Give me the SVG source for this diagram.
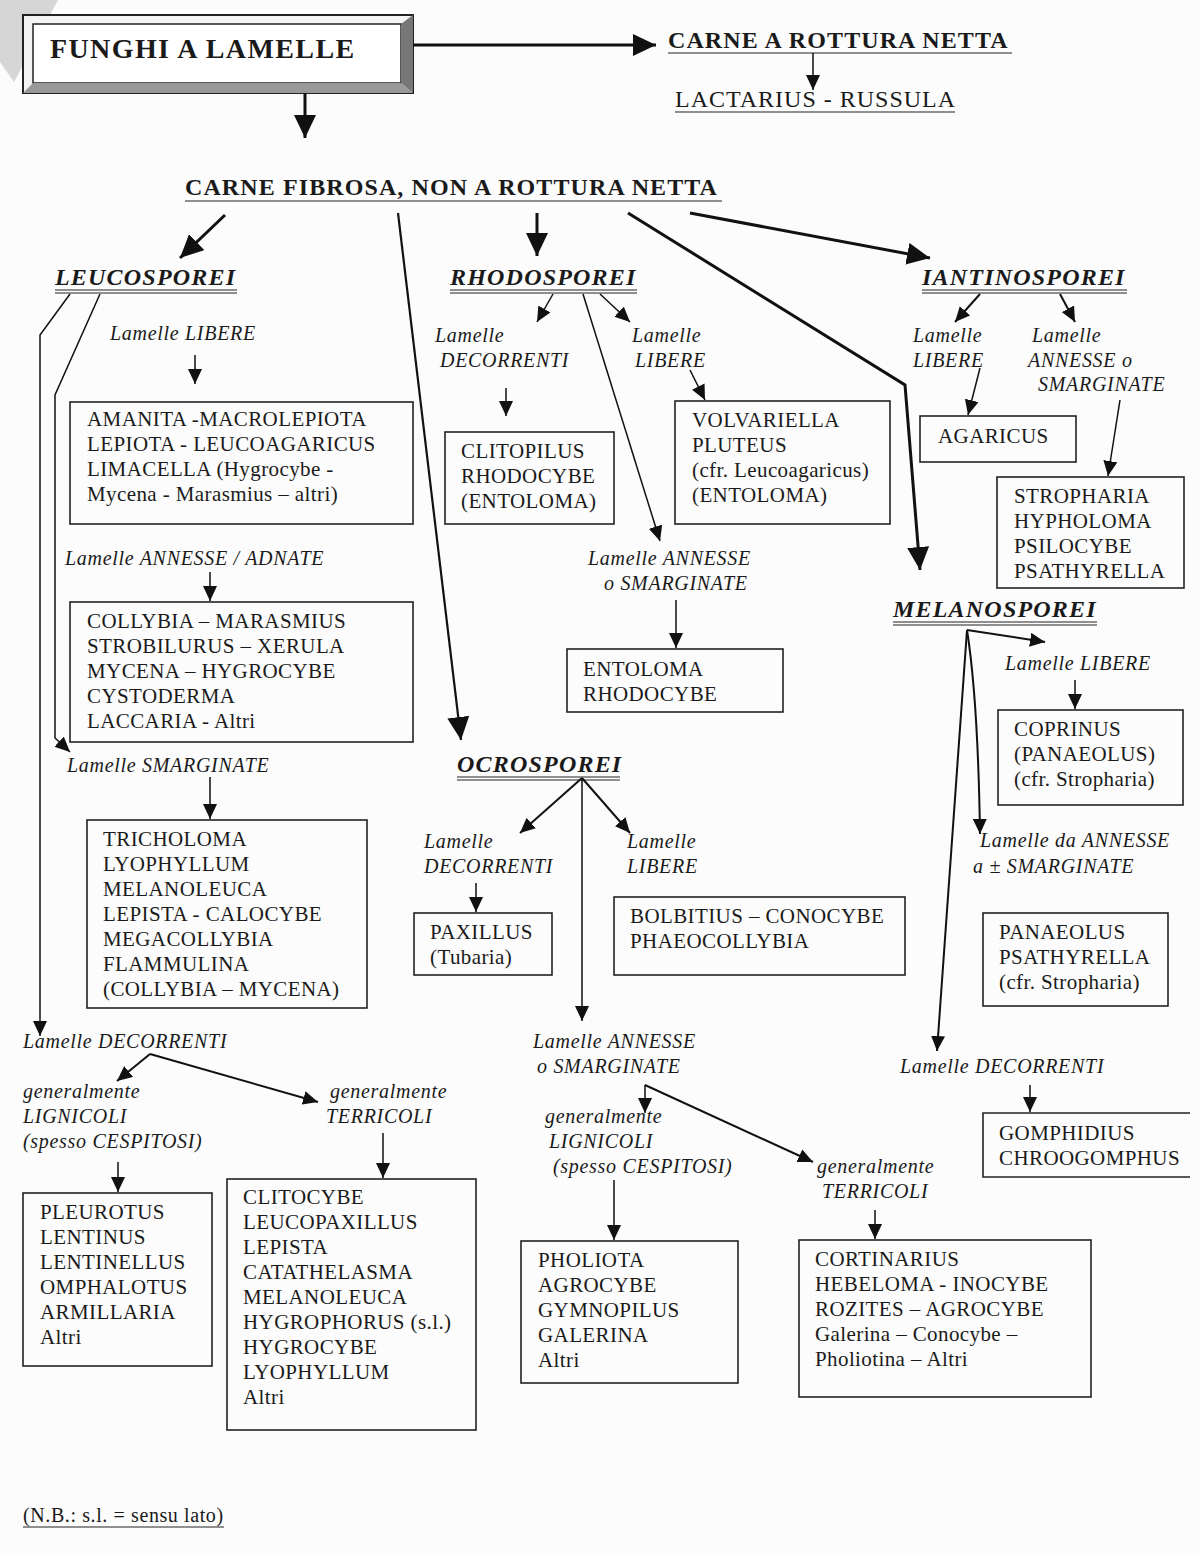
<svg xmlns="http://www.w3.org/2000/svg" width="1200" height="1554" viewBox="0 0 1200 1554">
<defs>
<marker id="a" markerUnits="userSpaceOnUse" markerWidth="16" markerHeight="14" refX="15" refY="7" orient="auto"><path d="M0,0 L15,7 L0,14 z" fill="#111"/></marker>
<marker id="b" markerUnits="userSpaceOnUse" markerWidth="24" markerHeight="22" refX="23" refY="11" orient="auto"><path d="M0,0 L23,11 L0,22 z" fill="#111"/></marker>
<style>
text{font-family:"Liberation Serif","Times New Roman",serif;fill:#1a1a1a}
.bx{fill:none;stroke:#222;stroke-width:1.6}
.t{font-size:21px;letter-spacing:0.4px}
.lb{font-size:20px;font-style:italic;letter-spacing:0.7px}
.hd{font-size:24px;font-style:italic;font-weight:bold;letter-spacing:1.2px}
.bd{font-size:24px;font-weight:bold;letter-spacing:1.1px}
.ul{stroke:#222;stroke-width:1.2;fill:none}
.c{stroke:#111;stroke-width:1.5;fill:none}
.k{stroke:#111;stroke-width:3;fill:none}
</style>
</defs>
<rect width="1200" height="1554" fill="#fcfcfc"/>
<polygon points="0,0 58,0 14,82 0,62" fill="#d6d6d6"/>

<g id="title">
<rect x="23" y="15" width="390" height="78" fill="#f4f4f4" stroke="#222" stroke-width="2"/>
<rect x="33" y="24" width="368" height="59" fill="#fff" stroke="#222" stroke-width="1.5"/>
<path d="M401,24 L413,15 L413,93 L401,83 z" fill="#777"/>
<path d="M33,83 L23,93 L413,93 L401,83 z" fill="#999"/>
<text x="50" y="58" style="font-size:28px;font-weight:bold;letter-spacing:1.4px">FUNGHI A LAMELLE</text>
</g>

<g id="rottura">
<text x="668" y="48" class="bd">CARNE A ROTTURA NETTA</text>
<line x1="668" y1="53" x2="1012" y2="53" class="ul"/>
</g>
<g id="lactarius">
<text x="675" y="107" style="font-size:24px;letter-spacing:1px">LACTARIUS - RUSSULA</text>
<line x1="675" y1="112" x2="955" y2="112" class="ul"/>
</g>
<g id="fibrosa">
<text x="185" y="195" class="bd">CARNE FIBROSA, NON A ROTTURA NETTA</text>
<line x1="185" y1="201" x2="722" y2="201" class="ul"/>
</g>

<g id="leucosporei">
<text x="55" y="285" class="hd">LEUCOSPOREI</text>
<line x1="55" y1="290" x2="237" y2="290" class="ul"/><line x1="55" y1="293" x2="237" y2="293" class="ul"/>
</g>
<g id="leu-libere"><text x="110" y="340" class="lb">Lamelle LIBERE</text></g>
<g id="box-amanita">
<rect x="70" y="402" width="343" height="122" class="bx"/>
<text class="t" x="87"><tspan x="87" y="426">AMANITA -MACROLEPIOTA</tspan><tspan x="87" y="451">LEPIOTA - LEUCOAGARICUS</tspan><tspan x="87" y="476">LIMACELLA (Hygrocybe -</tspan><tspan x="87" y="501">Mycena - Marasmius – altri)</tspan></text>
</g>
<g id="leu-annesse"><text x="65" y="565" class="lb">Lamelle ANNESSE / ADNATE</text></g>
<g id="box-collybia">
<rect x="70" y="602" width="343" height="140" class="bx"/>
<text class="t"><tspan x="87" y="628">COLLYBIA – MARASMIUS</tspan><tspan x="87" y="653">STROBILURUS – XERULA</tspan><tspan x="87" y="678">MYCENA – HYGROCYBE</tspan><tspan x="87" y="703">CYSTODERMA</tspan><tspan x="87" y="728">LACCARIA - Altri</tspan></text>
</g>
<g id="leu-smarginate"><text x="67" y="772" class="lb">Lamelle SMARGINATE</text></g>
<g id="box-tricholoma">
<rect x="87" y="820" width="280" height="188" class="bx"/>
<text class="t"><tspan x="103" y="846">TRICHOLOMA</tspan><tspan x="103" y="871">LYOPHYLLUM</tspan><tspan x="103" y="896">MELANOLEUCA</tspan><tspan x="103" y="921">LEPISTA - CALOCYBE</tspan><tspan x="103" y="946">MEGACOLLYBIA</tspan><tspan x="103" y="971">FLAMMULINA</tspan><tspan x="103" y="996">(COLLYBIA – MYCENA)</tspan></text>
</g>
<g id="leu-decorrenti"><text x="23" y="1048" class="lb">Lamelle DECORRENTI</text></g>
<g id="leu-lignicoli"><text class="lb"><tspan x="23" y="1098">generalmente</tspan><tspan x="23" y="1123">LIGNICOLI</tspan><tspan x="23" y="1148">(spesso CESPITOSI)</tspan></text></g>
<g id="leu-terricoli"><text class="lb"><tspan x="330" y="1098">generalmente</tspan><tspan x="326" y="1123">TERRICOLI</tspan></text></g>
<g id="box-pleurotus">
<rect x="23" y="1193" width="189" height="173" class="bx"/>
<text class="t"><tspan x="40" y="1219">PLEUROTUS</tspan><tspan x="40" y="1244">LENTINUS</tspan><tspan x="40" y="1269">LENTINELLUS</tspan><tspan x="40" y="1294">OMPHALOTUS</tspan><tspan x="40" y="1319">ARMILLARIA</tspan><tspan x="40" y="1344">Altri</tspan></text>
</g>
<g id="box-clitocybe">
<rect x="227" y="1179" width="249" height="251" class="bx"/>
<text class="t"><tspan x="243" y="1204">CLITOCYBE</tspan><tspan x="243" y="1229">LEUCOPAXILLUS</tspan><tspan x="243" y="1254">LEPISTA</tspan><tspan x="243" y="1279">CATATHELASMA</tspan><tspan x="243" y="1304">MELANOLEUCA</tspan><tspan x="243" y="1329">HYGROPHORUS (s.l.)</tspan><tspan x="243" y="1354">HYGROCYBE</tspan><tspan x="243" y="1379">LYOPHYLLUM</tspan><tspan x="243" y="1404">Altri</tspan></text>
</g>
<g id="nb">
<text x="23" y="1522" style="font-size:20px;letter-spacing:0.6px">(N.B.: s.l. = sensu lato)</text>
<line x1="23" y1="1527" x2="224" y2="1527" class="ul"/>
</g>

<g id="rhodosporei">
<text x="450" y="285" class="hd">RHODOSPOREI</text>
<line x1="450" y1="290" x2="637" y2="290" class="ul"/><line x1="450" y1="293" x2="637" y2="293" class="ul"/>
</g>
<g id="rho-decorrenti"><text class="lb"><tspan x="435" y="342">Lamelle</tspan><tspan x="440" y="367">DECORRENTI</tspan></text></g>
<g id="box-clitopilus">
<rect x="445" y="432" width="169" height="92" class="bx"/>
<text class="t"><tspan x="461" y="458">CLITOPILUS</tspan><tspan x="461" y="483">RHODOCYBE</tspan><tspan x="461" y="508">(ENTOLOMA)</tspan></text>
</g>
<g id="rho-libere"><text class="lb"><tspan x="632" y="342">Lamelle</tspan><tspan x="635" y="367">LIBERE</tspan></text></g>
<g id="box-volvariella">
<rect x="675" y="401" width="215" height="123" class="bx"/>
<text class="t"><tspan x="692" y="427">VOLVARIELLA</tspan><tspan x="692" y="452">PLUTEUS</tspan><tspan x="692" y="477">(cfr. Leucoagaricus)</tspan><tspan x="692" y="502">(ENTOLOMA)</tspan></text>
</g>
<g id="rho-annesse"><text class="lb"><tspan x="588" y="565">Lamelle ANNESSE</tspan><tspan x="604" y="590">o SMARGINATE</tspan></text></g>
<g id="box-entoloma">
<rect x="567" y="649" width="216" height="63" class="bx"/>
<text class="t"><tspan x="583" y="676">ENTOLOMA</tspan><tspan x="583" y="701">RHODOCYBE</tspan></text>
</g>

<g id="ocrosporei">
<text x="457" y="772" class="hd">OCROSPOREI</text>
<line x1="457" y1="777" x2="620" y2="777" class="ul"/><line x1="457" y1="780" x2="620" y2="780" class="ul"/>
</g>
<g id="ocr-decorrenti"><text class="lb"><tspan x="424" y="848">Lamelle</tspan><tspan x="424" y="873">DECORRENTI</tspan></text></g>
<g id="box-paxillus">
<rect x="414" y="913" width="138" height="62" class="bx"/>
<text class="t"><tspan x="430" y="939">PAXILLUS</tspan><tspan x="430" y="964">(Tubaria)</tspan></text>
</g>
<g id="ocr-libere"><text class="lb"><tspan x="627" y="848">Lamelle</tspan><tspan x="627" y="873">LIBERE</tspan></text></g>
<g id="box-bolbitius">
<rect x="614" y="897" width="291" height="78" class="bx"/>
<text class="t"><tspan x="630" y="923">BOLBITIUS – CONOCYBE</tspan><tspan x="630" y="948">PHAEOCOLLYBIA</tspan></text>
</g>
<g id="ocr-annesse"><text class="lb"><tspan x="533" y="1048">Lamelle ANNESSE</tspan><tspan x="537" y="1073">o SMARGINATE</tspan></text></g>
<g id="ocr-lignicoli"><text class="lb"><tspan x="545" y="1123">generalmente</tspan><tspan x="549" y="1148">LIGNICOLI</tspan><tspan x="553" y="1173">(spesso CESPITOSI)</tspan></text></g>
<g id="ocr-terricoli"><text class="lb"><tspan x="817" y="1173">generalmente</tspan><tspan x="822" y="1198">TERRICOLI</tspan></text></g>
<g id="box-pholiota">
<rect x="521" y="1241" width="217" height="142" class="bx"/>
<text class="t"><tspan x="538" y="1267">PHOLIOTA</tspan><tspan x="538" y="1292">AGROCYBE</tspan><tspan x="538" y="1317">GYMNOPILUS</tspan><tspan x="538" y="1342">GALERINA</tspan><tspan x="538" y="1367">Altri</tspan></text>
</g>
<g id="box-cortinarius">
<rect x="799" y="1240" width="292" height="157" class="bx"/>
<text class="t"><tspan x="815" y="1266">CORTINARIUS</tspan><tspan x="815" y="1291">HEBELOMA - INOCYBE</tspan><tspan x="815" y="1316">ROZITES – AGROCYBE</tspan><tspan x="815" y="1341">Galerina – Conocybe –</tspan><tspan x="815" y="1366">Pholiotina – Altri</tspan></text>
</g>

<g id="iantinosporei">
<text x="922" y="285" class="hd">IANTINOSPOREI</text>
<line x1="922" y1="290" x2="1127" y2="290" class="ul"/><line x1="922" y1="293" x2="1127" y2="293" class="ul"/>
</g>
<g id="ian-libere"><text class="lb"><tspan x="913" y="342">Lamelle</tspan><tspan x="913" y="367">LIBERE</tspan></text></g>
<g id="box-agaricus">
<rect x="920" y="416" width="156" height="46" class="bx"/>
<text class="t" x="938" y="443">AGARICUS</text>
</g>
<g id="ian-annesse"><text class="lb"><tspan x="1032" y="342">Lamelle</tspan><tspan x="1028" y="367">ANNESSE o</tspan><tspan x="1038" y="391">SMARGINATE</tspan></text></g>
<g id="box-stropharia">
<rect x="997" y="477" width="187" height="111" class="bx"/>
<text class="t"><tspan x="1014" y="503">STROPHARIA</tspan><tspan x="1014" y="528">HYPHOLOMA</tspan><tspan x="1014" y="553">PSILOCYBE</tspan><tspan x="1014" y="578">PSATHYRELLA</tspan></text>
</g>

<g id="melanosporei">
<text x="893" y="617" class="hd">MELANOSPOREI</text>
<line x1="893" y1="622" x2="1097" y2="622" class="ul"/><line x1="893" y1="625" x2="1097" y2="625" class="ul"/>
</g>
<g id="mel-libere"><text x="1005" y="670" class="lb">Lamelle LIBERE</text></g>
<g id="box-coprinus">
<rect x="998" y="710" width="185" height="95" class="bx"/>
<text class="t"><tspan x="1014" y="736">COPRINUS</tspan><tspan x="1014" y="761">(PANAEOLUS)</tspan><tspan x="1014" y="786">(cfr. Stropharia)</tspan></text>
</g>
<g id="mel-annesse"><text class="lb"><tspan x="980" y="847">Lamelle da ANNESSE</tspan><tspan x="973" y="873">a ± SMARGINATE</tspan></text></g>
<g id="box-panaeolus">
<rect x="983" y="913" width="185" height="93" class="bx"/>
<text class="t"><tspan x="999" y="939">PANAEOLUS</tspan><tspan x="999" y="964">PSATHYRELLA</tspan><tspan x="999" y="989">(cfr. Stropharia)</tspan></text>
</g>
<g id="mel-decorrenti"><text x="900" y="1073" class="lb">Lamelle DECORRENTI</text></g>
<g id="box-gomphidius">
<path d="M1190,1113 H983 V1177 H1190" class="bx"/>
<text class="t"><tspan x="999" y="1140">GOMPHIDIUS</tspan><tspan x="999" y="1165">CHROOGOMPHUS</tspan></text>
</g>

<g id="connectors">
<line x1="413" y1="45" x2="656" y2="45" class="k" marker-end="url(#b)"/>
<line x1="305" y1="93" x2="305" y2="138" class="k" marker-end="url(#b)"/>
<line x1="813" y1="53" x2="813" y2="90" class="c" marker-end="url(#a)"/>
<line x1="225" y1="215" x2="180" y2="258" class="k" marker-end="url(#b)"/>
<line x1="398" y1="213" x2="461" y2="740" class="c" style="stroke-width:2.2" marker-end="url(#b)"/>
<line x1="537" y1="213" x2="537" y2="256" class="k" marker-end="url(#b)"/>
<polyline points="628,213 905,385 920,570" class="k" marker-end="url(#b)"/>
<line x1="690" y1="213" x2="930" y2="258" class="k" marker-end="url(#b)"/>

<polyline points="70,294 40,335 40,1036" class="c" marker-end="url(#a)"/>
<polyline points="100,294 55,395 55,738 70,752" class="c" marker-end="url(#a)"/>
<line x1="195" y1="355" x2="195" y2="384" class="c" marker-end="url(#a)"/>
<line x1="210" y1="572" x2="210" y2="601" class="c" marker-end="url(#a)"/>
<line x1="210" y1="777" x2="210" y2="819" class="c" marker-end="url(#a)"/>
<line x1="150" y1="1054" x2="318" y2="1102" class="c" style="stroke-width:2" marker-end="url(#a)"/>
<line x1="150" y1="1054" x2="117" y2="1081" class="c" style="stroke-width:2" marker-end="url(#a)"/>
<line x1="118" y1="1162" x2="118" y2="1192" class="c" marker-end="url(#a)"/>
<line x1="383" y1="1133" x2="383" y2="1178" class="c" marker-end="url(#a)"/>

<line x1="553" y1="294" x2="537" y2="322" class="c" marker-end="url(#a)"/>
<line x1="600" y1="294" x2="630" y2="322" class="c" marker-end="url(#a)"/>
<line x1="583" y1="294" x2="660" y2="541" class="c" marker-end="url(#a)"/>
<line x1="506" y1="388" x2="506" y2="416" class="c" marker-end="url(#a)"/>
<line x1="690" y1="370" x2="705" y2="400" class="c" marker-end="url(#a)"/>
<line x1="676" y1="600" x2="676" y2="648" class="c" marker-end="url(#a)"/>

<line x1="582" y1="778" x2="520" y2="833" class="c" style="stroke-width:2" marker-end="url(#a)"/>
<line x1="582" y1="778" x2="630" y2="833" class="c" style="stroke-width:2" marker-end="url(#a)"/>
<line x1="582" y1="778" x2="582" y2="1021" class="c" marker-end="url(#a)"/>
<line x1="476" y1="883" x2="476" y2="912" class="c" marker-end="url(#a)"/>
<line x1="645" y1="1085" x2="645" y2="1113" class="c" marker-end="url(#a)"/>
<line x1="645" y1="1085" x2="813" y2="1162" class="c" style="stroke-width:2" marker-end="url(#a)"/>
<line x1="614" y1="1180" x2="614" y2="1240" class="c" marker-end="url(#a)"/>
<line x1="875" y1="1210" x2="875" y2="1239" class="c" marker-end="url(#a)"/>

<line x1="980" y1="294" x2="955" y2="322" class="c" style="stroke-width:2" marker-end="url(#a)"/>
<line x1="1060" y1="294" x2="1075" y2="322" class="c" style="stroke-width:2" marker-end="url(#a)"/>
<line x1="980" y1="368" x2="968" y2="415" class="c" marker-end="url(#a)"/>
<line x1="1120" y1="400" x2="1108" y2="476" class="c" marker-end="url(#a)"/>

<line x1="967" y1="630" x2="1045" y2="642" class="c" style="stroke-width:2" marker-end="url(#a)"/>
<path d="M967,630 Q978,700 980,834" class="c" style="stroke-width:2" marker-end="url(#a)"/>
<line x1="967" y1="630" x2="937" y2="1051" class="c" style="stroke-width:2" marker-end="url(#a)"/>
<line x1="1075" y1="680" x2="1075" y2="709" class="c" marker-end="url(#a)"/>
<line x1="1030" y1="1085" x2="1030" y2="1112" class="c" marker-end="url(#a)"/>
</g>
</svg>
